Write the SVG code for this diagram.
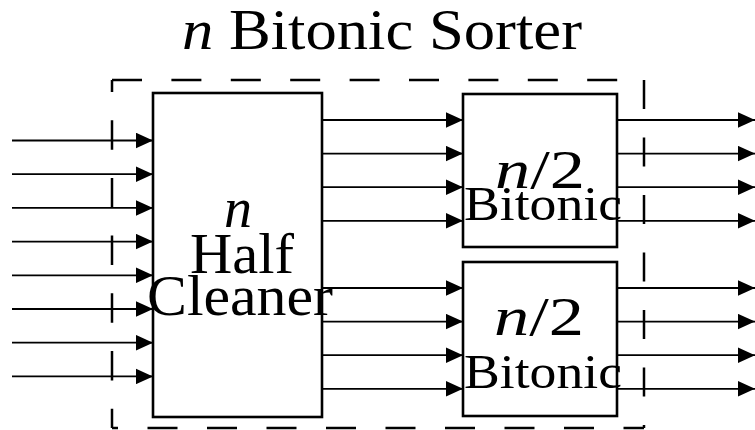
<svg xmlns="http://www.w3.org/2000/svg" width="755" height="430" viewBox="0 0 755 430">
  <style>
    .lbl { font-family: "Liberation Serif", "Times New Roman", serif; fill: #000; text-anchor: middle; }
    .it { font-style: italic; }
    .box { fill: #fff; stroke: #000; stroke-width: 2.6; }
    .wire { stroke: #000; stroke-width: 1.8; fill: none; marker-end: url(#head); }
    .dash { stroke: #000; stroke-width: 2.5; fill: none; }
  </style>
  <defs>
    <marker id="head" markerUnits="userSpaceOnUse" markerWidth="18" markerHeight="16" refX="17.5" refY="8" orient="auto">
      <path d="M0,0 L17.5,8 L0,16 z" fill="#000"/>
    </marker>
  </defs>
  <rect width="755" height="430" fill="#fff"/>

  <!-- title -->
  <text id="title" class="lbl" x="382" y="48.5" font-size="56" textLength="400" lengthAdjust="spacingAndGlyphs"><tspan class="it">n</tspan> Bitonic Sorter</text>

  <!-- dashed enclosure of the whole sorter -->
  <g id="enclosure">
    <path class="dash" d="M112,80 H644" stroke-dasharray="30 29.4"/>
    <path class="dash" d="M644,80 V428" stroke-dasharray="29 28.5"/>
    <path class="dash" d="M112,80 V428" stroke-dasharray="29.5 28.2" stroke-dashoffset="17.5"/>
    <path class="dash" d="M112,428 H644" stroke-dasharray="30 29.5" stroke-dashoffset="24"/>
  </g>

  <g id="half-cleaner">
    <rect class="box" x="153" y="93" width="169" height="324"/>
  </g>
  <g id="bitonic-upper">
    <rect class="box" x="463" y="94" width="154" height="153"/>
  </g>
  <g id="bitonic-lower">
    <rect class="box" x="463" y="262" width="154" height="154"/>
  </g>

  <!-- wires -->
  <g id="connectors">
    <line class="wire" x1="12" y1="140.5" x2="153" y2="140.5"/>
    <line class="wire" x1="12" y1="174.2" x2="153" y2="174.2"/>
    <line class="wire" x1="12" y1="207.9" x2="153" y2="207.9"/>
    <line class="wire" x1="12" y1="241.6" x2="153" y2="241.6"/>
    <line class="wire" x1="12" y1="275.3" x2="153" y2="275.3"/>
    <line class="wire" x1="12" y1="309" x2="153" y2="309"/>
    <line class="wire" x1="12" y1="342.7" x2="153" y2="342.7"/>
    <line class="wire" x1="12" y1="376.4" x2="153" y2="376.4"/>

    <line class="wire" x1="322" y1="120" x2="463" y2="120"/>
    <line class="wire" x1="322" y1="153.6" x2="463" y2="153.6"/>
    <line class="wire" x1="322" y1="187.2" x2="463" y2="187.2"/>
    <line class="wire" x1="322" y1="220.8" x2="463" y2="220.8"/>
    <line class="wire" x1="322" y1="288" x2="463" y2="288"/>
    <line class="wire" x1="322" y1="321.6" x2="463" y2="321.6"/>
    <line class="wire" x1="322" y1="355.2" x2="463" y2="355.2"/>
    <line class="wire" x1="322" y1="388.8" x2="463" y2="388.8"/>

    <line class="wire" x1="617" y1="120" x2="755" y2="120"/>
    <line class="wire" x1="617" y1="153.6" x2="755" y2="153.6"/>
    <line class="wire" x1="617" y1="187.2" x2="755" y2="187.2"/>
    <line class="wire" x1="617" y1="220.8" x2="755" y2="220.8"/>
    <line class="wire" x1="617" y1="288" x2="755" y2="288"/>
    <line class="wire" x1="617" y1="321.6" x2="755" y2="321.6"/>
    <line class="wire" x1="617" y1="355.2" x2="755" y2="355.2"/>
    <line class="wire" x1="617" y1="388.8" x2="755" y2="388.8"/>
  </g>

  <!-- box labels -->
  <g id="half-cleaner-label">
    <text class="lbl it" x="238" y="227" font-size="56">n</text>
    <text class="lbl" x="242" y="273" font-size="57" textLength="104" lengthAdjust="spacingAndGlyphs">Half</text>
    <text class="lbl" x="240" y="315" font-size="57" textLength="186" lengthAdjust="spacingAndGlyphs">Cleaner</text>
  </g>
  <g id="bitonic-upper-label">
    <text class="lbl" x="540" y="188" font-size="54" textLength="90" lengthAdjust="spacingAndGlyphs"><tspan class="it">n</tspan>/2</text>
    <text class="lbl" x="543" y="220" font-size="49" textLength="158" lengthAdjust="spacingAndGlyphs">Bitonic</text>
  </g>
  <g id="bitonic-lower-label">
    <text class="lbl" x="539" y="335" font-size="54" textLength="90" lengthAdjust="spacingAndGlyphs"><tspan class="it">n</tspan>/2</text>
    <text class="lbl" x="543" y="388" font-size="49" textLength="158" lengthAdjust="spacingAndGlyphs">Bitonic</text>
  </g>
</svg>
